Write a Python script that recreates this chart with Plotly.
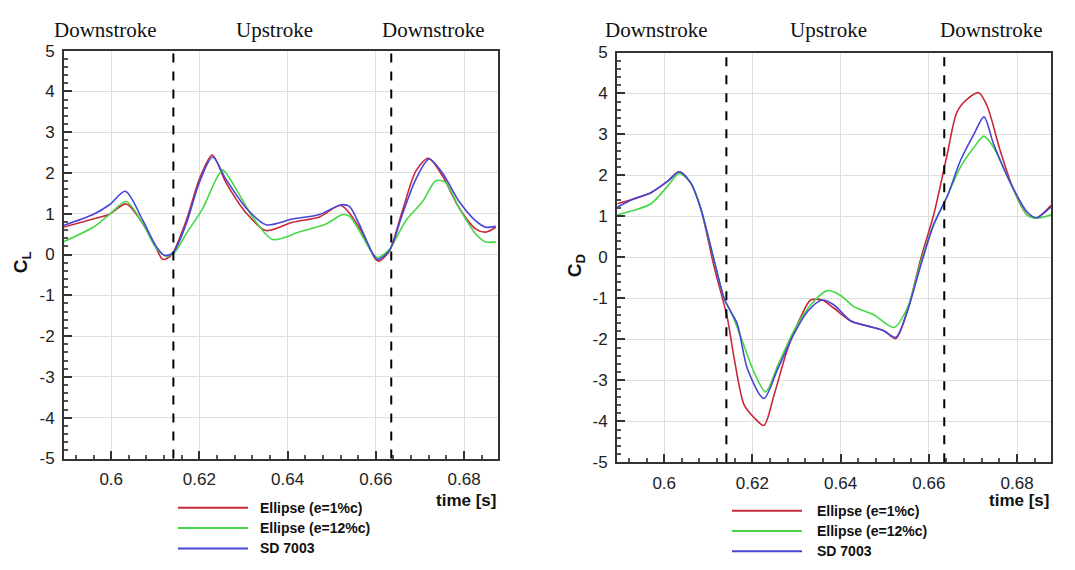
import plotly.graph_objects as go

# ---- lift coefficient C_L vs time ----
cl_time_red = [0.5891, 0.5959, 0.5996, 0.6034, 0.6072, 0.6102, 0.6117, 0.6136, 0.6170,
               0.6200, 0.6229, 0.6260, 0.6306, 0.6351, 0.6411, 0.6472, 0.6521, 0.6562,
               0.6600, 0.6608, 0.6630, 0.6660, 0.6691, 0.6719, 0.6751, 0.6789, 0.6826,
               0.6849, 0.6872]
cl_red = [0.67, 0.87, 0.99, 1.24, 0.75, 0.16, -0.12, -0.02, 0.83,
          1.85, 2.44, 1.77, 1.02, 0.59, 0.79, 0.92, 1.20, 0.67,
          -0.12, -0.16, 0.08, 1.06, 2.05, 2.36, 1.93, 1.14, 0.63,
          0.55, 0.67]

cl_time_green = [0.5891, 0.5959, 0.5996, 0.6034, 0.6072, 0.6102, 0.6125, 0.6143, 0.6170,
                 0.6208, 0.6238, 0.6253, 0.6283, 0.6321, 0.6366, 0.6426, 0.6487, 0.6525,
                 0.6540, 0.6562, 0.6592, 0.6604, 0.6630, 0.6668, 0.6706, 0.6736, 0.6758,
                 0.6789, 0.6826, 0.6849, 0.6872]
cl_green = [0.31, 0.67, 0.98, 1.30, 0.75, 0.16, -0.04, 0.04, 0.51,
            1.14, 1.85, 2.07, 1.61, 0.91, 0.37, 0.55, 0.75, 0.98,
            0.94, 0.59, 0.04, -0.08, 0.12, 0.83, 1.30, 1.81, 1.77,
            1.14, 0.51, 0.31, 0.31]

cl_time_blue = [0.5891, 0.5959, 0.5996, 0.6032, 0.6072, 0.6102, 0.6121, 0.6140, 0.6170,
                0.6200, 0.6230, 0.6260, 0.6306, 0.6351, 0.6411, 0.6472, 0.6521, 0.6540,
                0.6562, 0.6592, 0.6604, 0.6630, 0.6660, 0.6691, 0.6721, 0.6751, 0.6789,
                0.6826, 0.6849, 0.6872]
cl_blue = [0.71, 0.98, 1.22, 1.55, 0.83, 0.20, -0.02, 0.04, 0.75,
           1.77, 2.39, 1.85, 1.14, 0.73, 0.87, 0.98, 1.22, 1.18,
           0.75, 0.04, -0.12, 0.08, 0.98, 1.85, 2.34, 2.00, 1.30,
           0.83, 0.67, 0.69]

# ---- drag coefficient C_D vs time ----
cd_time_red = [0.5894, 0.5932, 0.5970, 0.6008, 0.6034, 0.6060, 0.6083, 0.6113, 0.6143,
               0.6158, 0.6181, 0.6204, 0.6226, 0.6249, 0.6279, 0.6309, 0.6332, 0.6358,
               0.6385, 0.6423, 0.6460, 0.6498, 0.6525, 0.6551, 0.6581, 0.6611, 0.6642,
               0.6664, 0.6687, 0.6713, 0.6732, 0.6762, 0.6792, 0.6823, 0.6845, 0.6877]
cd_red = [1.31, 1.43, 1.58, 1.86, 2.09, 1.82, 1.19, -0.22, -1.47,
          -2.42, -3.59, -3.91, -4.10, -3.36, -2.26, -1.47, -1.04, -1.04,
          -1.24, -1.55, -1.67, -1.79, -1.98, -1.32, -0.06, 1.04, 2.53,
          3.55, 3.86, 4.02, 3.70, 2.60, 1.66, 1.04, 0.97, 1.27]

cd_time_green = [0.5894, 0.5932, 0.5970, 0.6008, 0.6034, 0.6060, 0.6083, 0.6113, 0.6136,
                 0.6151, 0.6174, 0.6204, 0.6230, 0.6257, 0.6294, 0.6332, 0.6370, 0.6400,
                 0.6430, 0.6475, 0.6521, 0.6551, 0.6581, 0.6611, 0.6642, 0.6672, 0.6702,
                 0.6725, 0.6747, 0.6785, 0.6823, 0.6845, 0.6877]
cd_green = [1.04, 1.15, 1.31, 1.74, 2.05, 1.82, 1.19, -0.06, -1.00,
            -1.32, -1.95, -2.81, -3.28, -2.65, -1.79, -1.16, -0.81, -0.93,
            -1.20, -1.40, -1.71, -1.24, -0.14, 0.80, 1.50, 2.21, 2.68,
            2.96, 2.68, 1.82, 1.04, 0.96, 1.04]

cd_time_blue = [0.5894, 0.5932, 0.5970, 0.6008, 0.6034, 0.6060, 0.6083, 0.6113, 0.6136,
                0.6151, 0.6166, 0.6189, 0.6226, 0.6257, 0.6294, 0.6325, 0.6358, 0.6385,
                0.6423, 0.6460, 0.6498, 0.6525, 0.6551, 0.6581, 0.6611, 0.6642, 0.6672,
                0.6702, 0.6725, 0.6747, 0.6785, 0.6823, 0.6845, 0.6868, 0.6877]
cd_blue = [1.23, 1.43, 1.58, 1.86, 2.09, 1.82, 1.19, -0.06, -1.00,
           -1.32, -1.63, -2.73, -3.44, -2.73, -1.87, -1.32, -1.04, -1.16,
           -1.55, -1.67, -1.79, -1.95, -1.32, -0.22, 0.80, 1.50, 2.37,
           3.00, 3.43, 2.76, 1.82, 1.11, 0.97, 1.15, 1.23]

# stroke reversal instants (dashed lines)
stroke_reversals = [0.6141, 0.6635]

series_names = ["Ellipse (e=1%c)", "Ellipse (e=12%c)", "SD 7003"]
series_colors = ["rgb(200,40,60)", "rgb(70,215,70)", "rgb(70,70,215)"]

x_tick_vals = [0.60, 0.62, 0.64, 0.66, 0.68]
x_tick_text = ["0.6", "0.62", "0.64", "0.66", "0.68"]
y_tick_vals = [-5, -4, -3, -2, -1, 0, 1, 2, 3, 4, 5]
y_tick_text = ["-5", "-4", "-3", "-2", "-1", "0", "1", "2", "3", "4", "5"]
phase_labels = ["Downstroke", "Upstroke", "Downstroke"]

W, H = 1075, 570


def px(x):
    return x / W


def py(y):
    return 1 - y / H


fig = go.Figure()

cl_sets = [(cl_time_red, cl_red), (cl_time_green, cl_green), (cl_time_blue, cl_blue)]
cd_sets = [(cd_time_red, cd_red), (cd_time_green, cd_green), (cd_time_blue, cd_blue)]

for (t, v), name, col in zip(cl_sets, series_names, series_colors):
    fig.add_trace(go.Scatter(x=t, y=v, mode="lines", name=name, showlegend=False,
                             line=dict(color=col, width=1.6, shape="spline", smoothing=0.8),
                             xaxis="x", yaxis="y"))
for (t, v), name, col in zip(cd_sets, series_names, series_colors):
    fig.add_trace(go.Scatter(x=t, y=v, mode="lines", name=name, showlegend=False,
                             line=dict(color=col, width=1.6, shape="spline", smoothing=0.8),
                             xaxis="x2", yaxis="y2"))

tick_font = dict(family="Liberation Sans, Arial", size=17, color="#222")

xcommon = dict(range=[0.5893, 0.6877], tickvals=x_tick_vals, ticktext=x_tick_text,
               showgrid=True, gridcolor="#dedede", gridwidth=1, zeroline=False,
               showline=True, linecolor="#333", linewidth=2, mirror=True,
               ticks="inside", ticklen=8, tickwidth=1.5, tickcolor="#333",
               minor=dict(ticks="inside", ticklen=4, dtick=0.004, tick0=0.6,
                          tickcolor="#555", showgrid=False),
               tickfont=tick_font, ticklabelstandoff=4)
ycommon = dict(range=[-5, 5], tickvals=y_tick_vals, ticktext=y_tick_text,
               showgrid=True, gridcolor="#dedede", gridwidth=1, zeroline=False,
               showline=True, linecolor="#333", linewidth=2, mirror=True,
               ticks="inside", ticklen=8, tickwidth=1.5, tickcolor="#333",
               minor=dict(ticks="inside", ticklen=4, dtick=0.2, tick0=0,
                          tickcolor="#555", showgrid=False),
               tickfont=tick_font, ticklabelstandoff=4)

fig.update_layout(
    width=W, height=H,
    margin=dict(l=0, r=0, t=0, b=0),
    paper_bgcolor="white", plot_bgcolor="white",
    xaxis=dict(domain=[px(64), px(498)], anchor="y", **xcommon),
    yaxis=dict(domain=[py(465), py(43)], anchor="x", **ycommon),
    xaxis2=dict(domain=[px(617), px(1051)], anchor="y2", **xcommon),
    yaxis2=dict(domain=[py(469), py(45)], anchor="x2", **ycommon),
)

shapes = []
annotations = []

# dashed stroke-reversal lines in both panels
for xr, yr in [("x", "y domain"), ("x2", "y2 domain")]:
    for t in stroke_reversals:
        shapes.append(dict(type="line", xref=xr, yref=yr, x0=t, x1=t, y0=0, y1=1,
                           line=dict(color="black", width=2, dash="dash")))

# phase labels above each panel
phase_x = [[105, 274, 433], [656, 828, 991]]
for xs in phase_x:
    for label, xc in zip(phase_labels, xs):
        annotations.append(dict(text=label, x=px(xc), y=py(22), xref="paper", yref="paper",
                                showarrow=False, xanchor="center", yanchor="middle",
                                font=dict(family="Liberation Serif, Times New Roman",
                                          size=21, color="#111")))

# axis titles
annotations.append(dict(text="<b>C<sub>L</sub></b>", x=px(22), y=py(262), xref="paper",
                        yref="paper", showarrow=False, textangle=-90,
                        xanchor="center", yanchor="middle",
                        font=dict(family="Liberation Sans, Arial", size=19, color="#111")))
annotations.append(dict(text="<b>C<sub>D</sub></b>", x=px(576), y=py(265), xref="paper",
                        yref="paper", showarrow=False, textangle=-90,
                        xanchor="center", yanchor="middle",
                        font=dict(family="Liberation Sans, Arial", size=19, color="#111")))
for xr in [498, 1051]:
    annotations.append(dict(text="<b>time [s]</b>", x=px(xr), y=py(497), xref="paper",
                            yref="paper", showarrow=False, xanchor="right", yanchor="top",
                            font=dict(family="Liberation Sans, Arial", size=17, color="#111")))

# legends under each panel
legend_layouts = [(178, 248, 258, [516, 537, 558]), (732, 802, 815, [519, 540, 561])]
for x0, x1, xt, rows in legend_layouts:
    for name, col, yr in zip(series_names, series_colors, rows):
        shapes.append(dict(type="line", xref="paper", yref="paper",
                           x0=px(x0), x1=px(x1), y0=py(yr), y1=py(yr),
                           line=dict(color=col, width=2)))
        annotations.append(dict(text="<b>" + name + "</b>", x=px(xt), y=py(yr),
                                xref="paper", yref="paper", showarrow=False,
                                xanchor="left", yanchor="middle",
                                font=dict(family="Liberation Sans, Arial", size=14,
                                          color="#111")))

fig.update_layout(shapes=shapes, annotations=annotations)

fig.write_html("out.html")
